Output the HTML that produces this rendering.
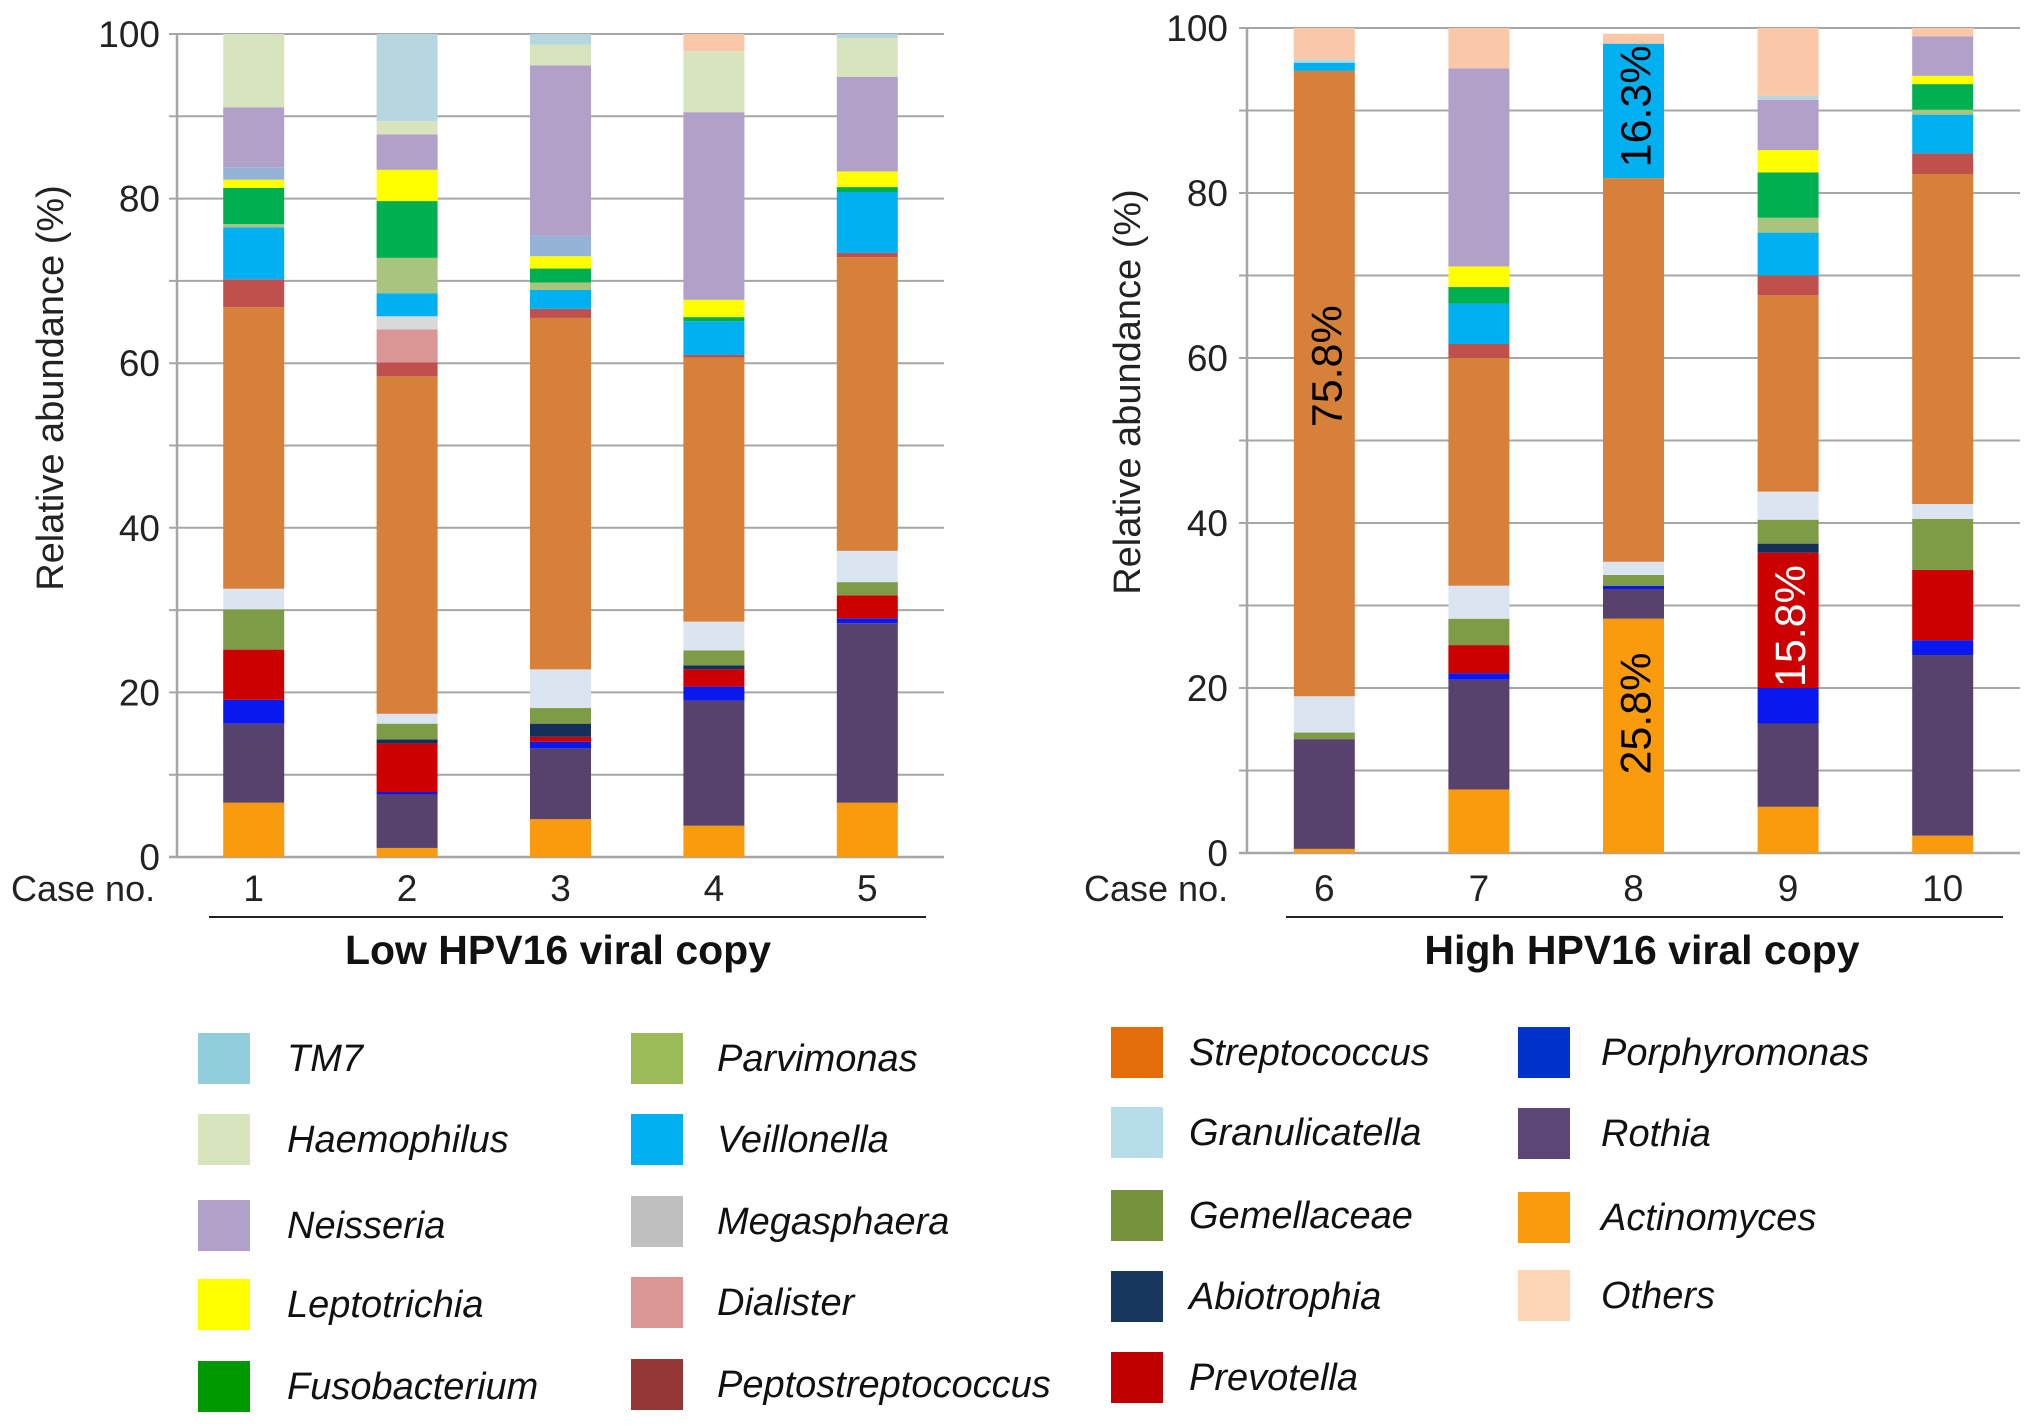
<!DOCTYPE html>
<html><head><meta charset="utf-8">
<style>
html,body{margin:0;padding:0;background:#fff;}
svg{display:block;font-family:"Liberation Sans",sans-serif;}
</style></head>
<body>
<svg id="chart" width="2031" height="1426" viewBox="0 0 2031 1426" xmlns="http://www.w3.org/2000/svg"></svg>
<script>
const cases = ["1","2","3","4","5","6","7","8","9","10"];
const seriesNames = ["Actinomyces","Rothia","Porphyromonas","Prevotella","Abiotrophia","Gemellaceae","Granulicatella","Streptococcus","Peptostreptococcus","Dialister","Megasphaera","Veillonella","Parvimonas","Fusobacterium","Leptotrichia","Minor","Neisseria","Haemophilus","TM7","Others"];
const seriesColors = ["#f99b0c","#57426e","#0a18f0","#cc0000","#14305a","#7e9b45","#dbe5f1","#d6803a","#c0504d","#d99694","#d9d9d9","#00b0f0","#a9c47f","#00b050","#ffff00","#95b3d7","#b1a0c7","#d7e4bd","#b7d7e0","#fac8a8"];
const actinomyces = [6.6,1.1,4.6,3.8,6.6,0.5,7.7,28.4,5.6,2.1];
const rothia = [9.6,6.5,8.6,15.2,21.8,13.3,13.3,3.6,10.1,21.9];
const porphyromonas = [2.9,0.3,0.8,1.7,0.6,0,0.8,0.4,4.3,1.8];
const prevotella = [6.1,5.9,0.6,2.1,2.8,0,3.4,0,16.4,8.5];
const abiotrophia = [0,0.5,1.6,0.5,0,0,0,0,1.1,0];
const gemellaceae = [4.9,1.9,1.9,1.8,1.6,0.8,3.2,1.3,2.9,6.2];
const granulicatella = [2.5,1.2,4.7,3.5,3.8,4.4,4.0,1.6,3.4,1.8];
const streptococcus = [34.2,41.0,42.7,32.1,35.7,75.8,27.6,46.5,23.8,40.0];
const peptostreptococcus = [3.4,1.7,1.1,0.3,0.5,0,1.7,0,2.4,2.5];
const dialister = [0,4.0,0,0,0,0,0,0,0,0];
const megasphaera = [0,1.6,0,0,0,0,0,0,0,0];
const veillonella = [6.3,2.8,2.3,4.1,7.4,1.0,4.9,16.3,5.2,4.7];
const parvimonas = [0.4,4.3,0.9,0,0,0,0,0,1.8,0.6];
const fusobacterium = [4.4,6.9,1.7,0.5,0.6,0,2.0,0,5.5,3.1];
const leptotrichia = [1.0,3.8,1.5,2.1,1.9,0,2.5,0,2.7,1.0];
const minor = [1.5,0,2.5,0,0,0,0,0,0,0];
const neisseria = [7.3,4.3,20.7,22.8,11.5,0,24.0,0,6.1,4.8];
const haemophilus = [8.9,1.6,2.5,7.4,4.7,0,0,0,0,0];
const tm7 = [0,10.6,1.3,0,0.5,0.4,0,0,0.5,0];
const others = [0,0,0,2.1,0,3.8,4.9,1.2,8.2,1.0];
const seriesValues = [actinomyces,rothia,porphyromonas,prevotella,abiotrophia,gemellaceae,granulicatella,streptococcus,peptostreptococcus,dialister,megasphaera,veillonella,parvimonas,fusobacterium,leptotrichia,minor,neisseria,haemophilus,tm7,others];
const yTicks = [0,20,40,60,80,100];
const gridVals = [10,20,30,40,50,60,70,80,90,100];
const annotCase = ["6","8","8","9"];
const annotValue = [59,90.5,16.9,27.5];
const annotText = ["75.8%","16.3%","25.8%","15.8%"];
const annotColor = ["#000","#000","#000","#fff"];
const groupTitles = ["Low HPV16 viral copy","High HPV16 viral copy"];
const legendNames = ["TM7","Haemophilus","Neisseria","Leptotrichia","Fusobacterium","Parvimonas","Veillonella","Megasphaera","Dialister","Peptostreptococcus","Streptococcus","Granulicatella","Gemellaceae","Abiotrophia","Prevotella","Porphyromonas","Rothia","Actinomyces","Others"];
const legendColors = ["#92cddc","#d7e4bd","#b1a0c7","#ffff00","#009900","#9bbb59","#00b0f0","#bfbfbf","#d99694","#953735","#e46c0a","#b7dee8","#76923c","#17375e","#c00000","#0033cc","#5b4675","#f99b0c","#fbd5b5"];

const NS="http://www.w3.org/2000/svg";
const svg=document.getElementById('chart');
function mk(tag,attrs,parent){const e=document.createElementNS(NS,tag);for(const k in attrs)e.setAttribute(k,attrs[k]);(parent||svg).appendChild(e);return e;}

const panels=[
 {x0:177,x1:944,y0:857,y100:34,cases:[0,1,2,3,4],tickRight:160,titleX:50,titleCy:388,caseLabelX:11,ulX0:209,ulX1:926,titleCx:558},
 {x0:1247,x1:2020,y0:853,y100:28,cases:[5,6,7,8,9],tickRight:1228,titleX:1127,titleCy:392,caseLabelX:1084,ulX0:1286,ulX1:2003,titleCx:1642}
];
panels.forEach((p,pi)=>{
  const g=mk('g',{});
  
  
  const yS=v=>p.y0-(v/100)*(p.y0-p.y100);
  const band=(p.x1-p.x0)/p.cases.length;
  const xC=i=>p.x0+band*(i+0.5);
  const bw=61;
  gridVals.forEach(v=>{
    const l=mk('line',{x1:p.x0-8,x2:p.x1,y1:yS(v),y2:yS(v),stroke:'#a6a6a6','stroke-width':2},g);
    
    
  });
  const ax=mk('line',{x1:p.x0-8,x2:p.x1,y1:yS(0),y2:yS(0),stroke:'#a6a6a6','stroke-width':2.5},g);
  
  
  const ay=mk('line',{x1:p.x0,x2:p.x0,y1:yS(0),y2:yS(100),stroke:'#a6a6a6','stroke-width':2.5},g);
  
  
  yTicks.forEach(v=>{
    const t=mk('text',{x:p.tickRight,y:yS(v)+13,'text-anchor':'end','font-size':37,fill:'#222'},g);
    t.textContent=v;
    
    
  });
  const yt=mk('text',{x:0,y:0,'text-anchor':'middle','font-size':38,fill:'#222',transform:`translate(${p.titleX+13},${p.titleCy}) rotate(-90)`},g);
  yt.textContent='Relative abundance (%)';
  
  
  p.cases.forEach((ci,i)=>{
    let cum=0;
    seriesValues.forEach((arr,si)=>{
      const v=arr[ci];
      if(v>0){
        const r=mk('rect',{x:xC(i)-bw/2,y:yS(cum+v),width:bw,height:yS(cum)-yS(cum+v),fill:seriesColors[si]},g);
        
        
      }
      cum+=v;
    });
    const cl=mk('text',{x:xC(i),y:901,'text-anchor':'middle','font-size':37,fill:'#222'},g);
    cl.textContent=cases[ci];
    
    
    annotCase.forEach((ac,ai)=>{
      if(ac===cases[ci]){
        const a=mk('text',{x:0,y:0,'text-anchor':'middle','font-size':43,fill:annotColor[ai],transform:`translate(${xC(i)+17},${yS(annotValue[ai])}) rotate(-90)`},g);
        a.textContent=annotText[ai];
        
        
      }
    });
  });
  const cn=mk('text',{x:p.caseLabelX,y:901,'font-size':36,fill:'#222'},g);
  cn.textContent='Case no.';
  
  
  const ul=mk('line',{x1:p.ulX0,x2:p.ulX1,y1:917,y2:917,stroke:'#222','stroke-width':2},g);
  
  
  const gt=mk('text',{x:p.titleCx,y:964,'text-anchor':'middle','font-size':41,'font-weight':'bold',fill:'#111'},g);
  gt.textContent=groupTitles[pi];
  
  
});

const lg=mk('g',{});


const colSw=[198,631,1111,1518];
const colTx=[287,717,1189,1601];
const rowY=[[1059,1140,1226,1305,1387],[1059,1140,1222,1303,1385],[1053,1133,1216,1297,1378],[1053,1134,1218,1296]];
legendNames.forEach((n,i)=>{
  const c=Math.floor(i/5), r=i%5;
  const cy=rowY[c][r];
  const s=mk('rect',{x:colSw[c],y:cy-26,width:52,height:51,fill:legendColors[i]},lg);
  
  
  const t=mk('text',{x:colTx[c],y:cy+12,'font-size':38,'font-style':'italic',fill:'#111'},lg);
  t.textContent=n;
  
  
});
</script>
</body></html>
